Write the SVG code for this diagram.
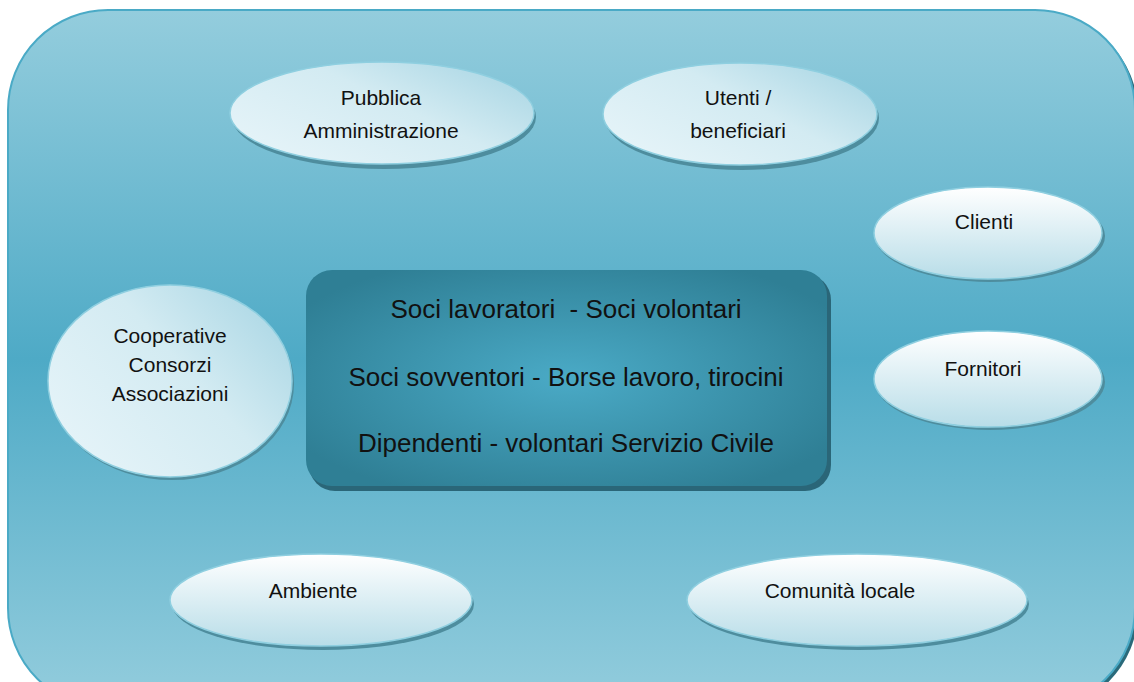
<svg xmlns="http://www.w3.org/2000/svg" width="1134" height="682" viewBox="0 0 1134 682">
<style>
.t{font-family:"Liberation Sans",Arial,sans-serif;font-size:21px;fill:#111;text-anchor:middle}
.c{font-family:"Liberation Sans",Arial,sans-serif;font-size:26px;fill:#111;text-anchor:middle;white-space:pre}
.el{stroke:#8fcfe0;stroke-width:1.5}
.sh{fill:#4e8d9e}
</style>
<defs>
<linearGradient id="bg" x1="0" y1="0" x2="0" y2="1">
<stop offset="0" stop-color="#94cddd"/>
<stop offset="0.5" stop-color="#4eaac6"/>
<stop offset="1" stop-color="#94cddd"/>
</linearGradient>
<linearGradient id="eg" x1="0" y1="0" x2="0" y2="1">
<stop offset="0" stop-color="#ffffff"/>
<stop offset="1" stop-color="#b8dde8"/>
</linearGradient>
<linearGradient id="ed" x1="0" y1="0.7" x2="1" y2="0">
<stop offset="0" stop-color="#e4f3f8"/>
<stop offset="0.5" stop-color="#d3ebf2"/>
<stop offset="1" stop-color="#a3d3e2"/>
</linearGradient>
<radialGradient id="cg" cx="0.5" cy="0.5" r="0.6">
<stop offset="0" stop-color="#4aaac6"/>
<stop offset="1" stop-color="#2f7f95"/>
</radialGradient>
</defs>
<g id="background">
<rect x="11" y="13" width="1127" height="698" rx="100" fill="#2a6a7a"/>
<rect x="8" y="10" width="1127" height="698" rx="100" fill="url(#bg)" stroke="#4aaac6" stroke-width="2"/>
</g>
<g id="connectors"></g>
<g id="center">
<rect x="309" y="274" width="522" height="217" rx="26" fill="#2a6678"/>
<rect x="306" y="270" width="521" height="216" rx="26" fill="url(#cg)"/>
<text class="c" x="566" y="318" xml:space="preserve">Soci lavoratori  - Soci volontari</text>
<text class="c" x="566" y="386">Soci sovventori - Borse lavoro, tirocini</text>
<text class="c" x="566" y="452">Dipendenti - volontari Servizio Civile</text>
</g>
<g id="pubblica">
<ellipse class="sh" cx="384" cy="117" rx="152" ry="52"/>
<ellipse class="el" cx="382" cy="113" rx="152" ry="51" fill="url(#ed)"/>
<text class="t" x="381" y="105">Pubblica</text>
<text class="t" x="381" y="138">Amministrazione</text>
</g>
<g id="utenti">
<ellipse class="sh" cx="742" cy="118" rx="137" ry="52"/>
<ellipse class="el" cx="740" cy="114" rx="137" ry="51" fill="url(#ed)"/>
<text class="t" x="738" y="105">Utenti /</text>
<text class="t" x="738" y="138">beneficiari</text>
</g>
<g id="clienti">
<ellipse class="sh" cx="990" cy="236" rx="115" ry="46"/>
<ellipse class="el" cx="988" cy="233" rx="114" ry="46" fill="url(#eg)"/>
<text class="t" x="984" y="229">Clienti</text>
</g>
<g id="fornitori">
<ellipse class="sh" cx="990" cy="382" rx="115" ry="48"/>
<ellipse class="el" cx="988" cy="379" rx="114" ry="48" fill="url(#eg)"/>
<text class="t" x="983" y="376">Fornitori</text>
</g>
<g id="cooperative">
<ellipse class="sh" cx="172" cy="384" rx="122" ry="96"/>
<ellipse class="el" cx="170" cy="381" rx="122" ry="96" fill="url(#ed)"/>
<text class="t" x="170" y="343">Cooperative</text>
<text class="t" x="170" y="372">Consorzi</text>
<text class="t" x="170" y="401">Associazioni</text>
</g>
<g id="ambiente">
<ellipse class="sh" cx="323" cy="604" rx="151" ry="46"/>
<ellipse class="el" cx="321" cy="600" rx="151" ry="46" fill="url(#eg)"/>
<text class="t" x="313" y="598">Ambiente</text>
</g>
<g id="comunita">
<ellipse class="sh" cx="859" cy="604" rx="170" ry="46"/>
<ellipse class="el" cx="857" cy="600" rx="170" ry="46" fill="url(#eg)"/>
<text class="t" x="840" y="598">Comunità locale</text>
</g>
</svg>
